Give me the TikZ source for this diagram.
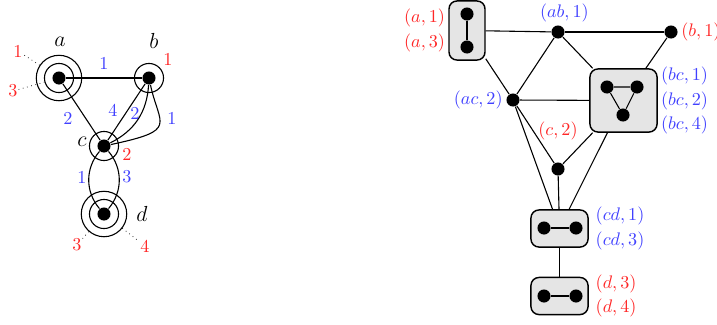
\documentclass[tikz,border=0pt]{standalone}
\usepackage{amsmath}
\usetikzlibrary{positioning}

\begin{document}
\begin{tikzpicture}[x=0.55pt, y=0.55pt, semithick,
    vertex/.style={circle, fill, inner sep=0pt, minimum size=7.2pt},
    ring/.style={circle, draw, inner sep=0pt, minimum size=16pt},
    bigring/.style={circle, draw, inner sep=0pt, minimum size=25pt},
    flag/.style={red!85, inner sep=1.5pt},
    elab/.style={blue!75, inner sep=1.5pt},
    vname/.style={font=\large},
    dart/.style={dotted, thin},
    box/.style={rectangle, draw, thick, rounded corners=4.4pt, fill=gray!20}]
        \useasboundingbox (0,0) rectangle (717,324);

        % the map
        \node[vertex] (a) at (59,246) {};
        \node[vertex] (b) at (149,246) {};
        \node[vertex] (c) at (104,178) {};
        \node[vertex] (d) at (104,110) {};

        \node[ring] (a_1) at (a) {};
        \node[bigring] (a_2) at (a) {};
        \node[ring] (b_1) at (b) {};
        \node[ring] (c_1) at (c) {};
        \node[ring] (d_1) at (d) {};
        \node[bigring] (d_2) at (d) {};

        \node[vname] (n_a) at (60,282) {$a$};
        \node[vname] (n_b) at (154,283) {$b$};
        \node[vname] (n_c) at (82,182) {$c$};
        \node[vname] (n_d) at (142,110) {$d$};

        \node[flag, inner sep=0.3pt] (f_a1) at (18,273) {1};
        \node[flag, inner sep=0.3pt] (f_a3) at (13,233) {3};
        \node[flag] (f_b1) at (168,265) {1};
        \node[flag] (f_c2) at (127,170) {2};
        \node[flag, inner sep=0.3pt] (f_d3) at (77,79) {3};
        \node[flag, inner sep=0.3pt] (f_d4) at (145,78) {4};

        \draw[dart] (a_2) -- (f_a1);
        \draw[dart] (a_1) -- (f_a3);
        \draw[dart] (d_2) -- (f_d3);
        \draw[dart] (d_2) -- (f_d4);

        \draw (a) -- (b);
        \draw (a) -- (c);
        \draw (b) -- (c);
        \draw (b) to[bend left=30] (c);
        \draw (b) to[out=-78, in=12, out looseness=1.5, in looseness=2.5] (c);
        \draw (c) to[bend right=40] (d);
        \draw (c) to[bend left=40] (d);

        \node[elab] (e_ab) at (104,261) {1};
        \node[elab] (e_ac) at (68,206) {2};
        \node[elab] (e_bc4) at (113,214) {4};
        \node[elab] (e_bc2) at (135,211) {2};
        \node[elab] (e_bc1) at (172,206) {1};
        \node[elab] (e_cd1) at (82,147) {1};
        \node[elab] (e_cd3) at (127,147) {3};

        % the graph of the map
        \node[box, minimum width=19.8pt, minimum height=32.5pt] (A) at (467,293.5) {};
        \node[box, minimum width=36.9pt, minimum height=34.7pt] (BC) at (623.5,223.5) {};
        \node[box, minimum width=31.4pt, minimum height=20.4pt] (CD) at (559.5,95.5) {};
        \node[box, minimum width=31.4pt, minimum height=20.4pt] (D) at (559.5,28) {};

        \node[vertex] (v_a1) at (467,310) {};
        \node[vertex] (v_a3) at (467,277) {};
        \node[vertex] (v_ab) at (558,292) {};
        \node[vertex] (v_b1) at (671,292) {};
        \node[vertex] (v_ac2) at (513,224) {};
        \node[vertex] (v_bc1) at (607,237) {};
        \node[vertex] (v_bc2) at (637,237) {};
        \node[vertex] (v_bc4) at (623,209) {};
        \node[vertex] (v_c2) at (558,155) {};
        \node[vertex] (v_cd1) at (544,96) {};
        \node[vertex] (v_cd3) at (576,96) {};
        \node[vertex] (v_d3) at (544,28) {};
        \node[vertex] (v_d4) at (576,28) {};

        \draw (v_a1) -- (v_a3);
        \draw (v_bc1) -- (v_bc2) -- (v_bc4) -- (v_bc1);
        \draw (v_cd1) -- (v_cd3);
        \draw (v_d3) -- (v_d4);

        \draw (A) -- (v_ab);
        \draw (v_ab) -- (v_b1);
        \draw (A) -- (v_ac2);
        \draw (v_ab) -- (v_ac2);
        \draw (v_ab) -- (BC);
        \draw (v_b1) -- (BC);
        \draw (v_ac2) -- (BC);
        \draw (v_ac2) -- (v_c2);
        \draw (v_ac2) -- (CD);
        \draw (BC) -- (v_c2);
        \draw (BC) -- (CD);
        \draw (v_c2) -- (CD);
        \draw (CD) -- (D);

        \node[flag, left, align=right] (l_a) at (A.west) {$(a,1)$\\[1.6pt]$(a,3)$};
        \node[elab, above, xshift=3.5pt] (l_ab) at (v_ab.north) {$(ab,1)$};
        \node[flag, right] (l_b) at (v_b1.east) {$(b,1)$};
        \node[elab, left] (l_ac) at (v_ac2.west) {$(ac,2)$};
        \node[elab, right, align=left] (l_bc) at (BC.east) {$(bc,1)$\\[1.6pt]$(bc,2)$\\[1.6pt]$(bc,4)$};
        \node[flag, above=10pt of v_c2] (l_c) {$(c,2)$};
        \node[elab, right, align=left, xshift=2pt] (l_cd) at (CD.east) {$(cd,1)$\\[1.6pt]$(cd,3)$};
        \node[flag, right, align=left, xshift=2pt] (l_d) at (D.east) {$(d,3)$\\[1.6pt]$(d,4)$};

    \end{tikzpicture}
\end{document}
